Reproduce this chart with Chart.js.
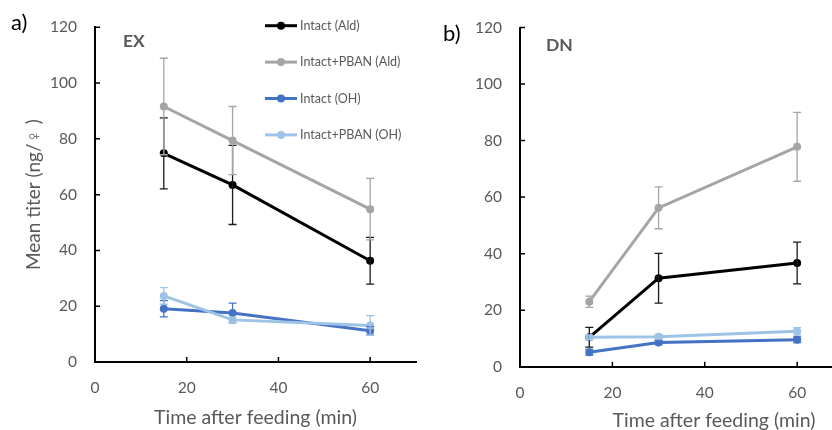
<!DOCTYPE html>
<html>
<head>
<meta charset="utf-8">
<script src="https://cdn.jsdelivr.net/npm/chart.js@4.4.1/dist/chart.umd.min.js"></script>
<style>
  html, body { margin: 0; padding: 0; width: 832px; height: 430px; overflow: hidden; background: #fff; }
  canvas { position: absolute; top: 0; }
  #cA { left: 0; }
  #cB { left: 420px; }
  .txt { position: absolute; font-family: Lato, "Open Sans", sans-serif; line-height: 1; white-space: nowrap; }
  .panel { font-size: 22px; color: #000; }
  .tag { font-size: 17.5px; font-weight: bold; color: #595959; }
</style>
</head>
<body>
<canvas id="cA" width="420" height="430"></canvas>
<canvas id="cB" width="492" height="430"></canvas>
<div class="txt panel" style="left:11px; top:10.5px;">a)</div>
<div class="txt panel" style="left:443px; top:21.5px;">b)</div>
<div class="txt tag" style="left:123px; top:32px;">EX</div>
<div class="txt tag" style="left:546px; top:35.5px;">DN</div>
<script>
// ---------- data ----------
const timesMin = [15, 30, 60];
const seriesLabels = ['Intact (Ald)', 'Intact+PBAN (Ald)', 'Intact (OH)', 'Intact+PBAN (OH)'];
const xTickValues = [0, 20, 40, 60];
const yTickValues = [0, 20, 40, 60, 80, 100, 120];

// Panel a) EX
const exIntactAld     = [74.8, 63.5, 36.3];
const exIntactAldErr  = [12.7, 14.2, 8.4];
const exPbanAld       = [91.6, 79.4, 54.8];
const exPbanAldErr    = [17.3, 12.2, 11.0];
const exIntactOH      = [19.1, 17.6, 11.2];
const exIntactOHErr   = [2.9, 3.5, 1.5];
const exPbanOH        = [23.7, 15.1, 13.1];
const exPbanOHErr     = [3.0, 1.0, 3.5];

// Panel b) DN
const dnIntactAld     = [10.4, 31.3, 36.7];
const dnIntactAldErr  = [3.5, 8.8, 7.4];
const dnPbanAld       = [23.0, 56.2, 77.8];
const dnPbanAldErr    = [2.0, 7.4, 12.2];
const dnIntactOH      = [5.1, 8.6, 9.5];
const dnIntactOHErr   = [1.0, 0.8, 1.0];
const dnPbanOH        = [10.4, 10.6, 12.5];
const dnPbanOHErr     = [0.8, 0.8, 1.3];

// ---------- styles ----------
const lineColors = ['#000000', '#A5A5A5', '#4472C4', '#9DC3E6'];
const errColors  = ['#1a1a1a', '#A5A5A5', '#4472C4', '#9DC3E6'];
const FONT = 'Lato, "Open Sans", sans-serif';
const GREY = '#595959';

function makeDatasets(series, errs) {
  return series.map((vals, i) => ({
    label: seriesLabels[i],
    data: timesMin.map((t, j) => ({ x: t, y: vals[j] })),
    errors: errs[i],
    errColor: errColors[i],
    borderColor: lineColors[i],
    backgroundColor: lineColors[i],
    pointBackgroundColor: lineColors[i],
    pointBorderColor: lineColors[i],
    borderWidth: 3,
    pointRadius: 4,
    pointBorderWidth: 0,
    tension: 0,
    order: 4 - i
  }));
}

const errorBars = {
  id: 'errorBars',
  afterDatasetsDraw(chart) {
    const ctx = chart.ctx;
    const ys = chart.scales.y;
    ctx.save();
    chart.data.datasets.forEach((ds, i) => {
      const meta = chart.getDatasetMeta(i);
      ctx.strokeStyle = ds.errColor;
      ctx.lineWidth = 1.3;
      ctx.beginPath();
      meta.data.forEach((pt, j) => {
        const v = ds.data[j].y, e = ds.errors[j];
        const top = ys.getPixelForValue(v + e), bot = ys.getPixelForValue(v - e);
        const x = pt.x;
        ctx.moveTo(x, top); ctx.lineTo(x, bot);
        ctx.moveTo(x - 4, top); ctx.lineTo(x + 4, top);
        ctx.moveTo(x - 4, bot); ctx.lineTo(x + 4, bot);
      });
      ctx.stroke();
    });
    ctx.restore();
  }
};

const inwardTicks = {
  id: 'inwardTicks',
  afterDraw(chart) {
    const ctx = chart.ctx;
    const xs = chart.scales.x, ys = chart.scales.y;
    const len = 5;
    ctx.save();
    ctx.strokeStyle = '#000';
    ctx.lineWidth = 1.5;
    ctx.beginPath();
    ys.ticks.forEach(t => {
      const py = ys.getPixelForValue(t.value);
      ctx.moveTo(ys.right, py); ctx.lineTo(ys.right + len, py);
    });
    xs.ticks.forEach(t => {
      if (t.value === 0) return;
      const px = xs.getPixelForValue(t.value);
      ctx.moveTo(px, xs.top); ctx.lineTo(px, xs.top - len);
    });
    ctx.stroke();
    ctx.restore();
  }
};

const insideLegend = {
  id: 'insideLegend',
  afterDraw(chart, args, opts) {
    if (!opts || !opts.show) return;
    const ctx = chart.ctx;
    ctx.save();
    ctx.font = '12.5px ' + FONT;
    ctx.textBaseline = 'middle';
    ctx.textAlign = 'left';
    chart.data.datasets.forEach((ds, i) => {
      const y = opts.y0 + i * opts.step;
      ctx.strokeStyle = ds.borderColor;
      ctx.lineWidth = 3;
      ctx.beginPath();
      ctx.moveTo(opts.x0, y); ctx.lineTo(opts.x0 + 32, y);
      ctx.stroke();
      ctx.fillStyle = ds.borderColor;
      ctx.beginPath();
      ctx.arc(opts.x0 + 16, y, 4, 0, Math.PI * 2);
      ctx.fill();
      ctx.fillStyle = GREY;
      ctx.fillText(ds.label, opts.x0 + 35, y);
    });
    ctx.restore();
  }
};

function makeChart(id, datasets, cfg) {
  return new Chart(document.getElementById(id), {
    type: 'line',
    data: { datasets },
    plugins: [errorBars, inwardTicks, insideLegend],
    options: {
      responsive: false,
      animation: false,
      devicePixelRatio: 1,
      layout: { padding: { top: cfg.padTop, right: cfg.padRight, left: 0, bottom: 0 } },
      plugins: {
        legend: { display: false },
        tooltip: { enabled: false },
        insideLegend: cfg.legend
      },
      scales: {
        x: {
          type: 'linear',
          min: 0,
          max: cfg.xMax,
          afterBuildTicks: s => { s.ticks = xTickValues.map(v => ({ value: v })); },
          afterFit: s => { s.height = cfg.xHeight; },
          ticks: { color: GREY, font: { family: FONT, size: 15.5 }, padding: 17, maxRotation: 0 },
          grid: { display: false, drawTicks: false },
          border: { display: true, color: '#000', width: 2 },
          title: {
            display: true,
            text: 'Time after feeding (min)',
            color: GREY,
            font: { family: FONT, size: 19.5 },
            padding: { top: 0, bottom: cfg.xTitlePad }
          }
        },
        y: {
          min: 0,
          max: 120,
          afterBuildTicks: s => { s.ticks = yTickValues.map(v => ({ value: v })); },
          afterFit: s => { s.width = cfg.yWidth; },
          ticks: { color: GREY, font: { family: FONT, size: 15.5 }, padding: 18 },
          grid: { display: false, drawTicks: false },
          border: { display: true, color: '#000', width: 2 },
          title: {
            display: cfg.yTitle,
            text: 'Mean titer (ng/♀ )',
            color: GREY,
            font: { family: FONT, size: 19 },
            padding: { top: 22, bottom: 0 }
          }
        }
      }
    }
  });
}

makeChart('cA',
  makeDatasets([exIntactAld, exPbanAld, exIntactOH, exPbanOH],
               [exIntactAldErr, exPbanAldErr, exIntactOHErr, exPbanOHErr]),
  { padTop: 22.5, padRight: 1, xMax: 70, xHeight: 68, yWidth: 95, yTitle: true, xTitlePad: 1,
    legend: { show: true, x0: 265, y0: 25.7, step: 36.4 } });

makeChart('cB',
  makeDatasets([dnIntactAld, dnPbanAld, dnIntactOH, dnPbanOH],
               [dnIntactAldErr, dnPbanAldErr, dnIntactOHErr, dnPbanOHErr]),
  { padTop: 27.5, padRight: 3, xMax: 84, xHeight: 63.3, yWidth: 100, yTitle: false, xTitlePad: -2,
    legend: { show: false } });
</script>
</body>
</html>
